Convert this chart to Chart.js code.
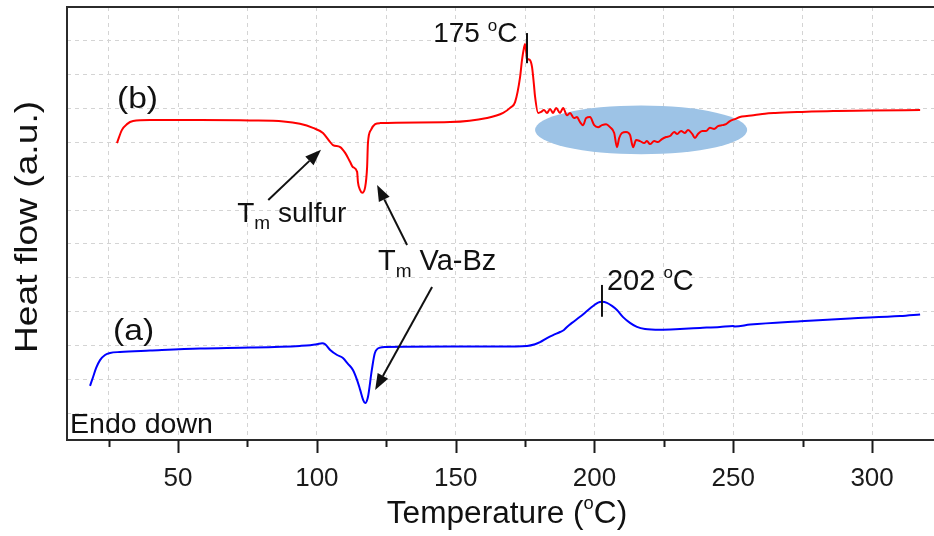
<!DOCTYPE html>
<html><head><meta charset="utf-8">
<script src="https://cdn.jsdelivr.net/npm/chart.js@4.4.0/dist/chart.umd.min.js"></script>
<style>html,body{margin:0;padding:0;background:#fff;}#wrap{width:934px;height:536px;}</style>
</head><body><div id="wrap"><canvas id="c" width="934" height="536"></canvas></div>
<script>
// ---- data (a): Va-Bz, blue ----
const tempA = [18.3, 19.4, 20.5, 21.9, 23.7, 25.5, 29.1, 39.9, 57.9, 76.0,
  93.9, 97.6, 100.1, 101.9, 103.0, 104.8, 107.3, 109.4, 111.2, 113.0,
  114.5, 115.6, 116.7, 117.4, 118.4, 119.8, 120.9, 122.8, 124.6, 148.0,
  166.0, 175.7, 178.6, 180.4, 182.9, 185.1, 187.6, 189.0, 190.1, 191.9,
  194.8, 197.3, 199.5, 201.3, 202.7, 204.5, 206.3, 208.1, 210.3, 212.8,
  215.3, 218.2, 223.6, 230.8, 238.0, 245.2, 249.9, 250.6, 256.1, 274.1,
  292.1, 310.1, 317.3];
const heatA = [0.81, 1.07, 1.34, 1.57, 1.72, 1.78, 1.81, 1.85, 1.91, 1.94,
  1.99, 2.01, 2.04, 2.07, 2.04, 1.87, 1.72, 1.63, 1.46, 1.28,
  0.98, 0.69, 0.39, 0.30, 0.48, 1.28, 1.78, 1.94, 1.96, 1.97,
  1.97, 1.99, 2.04, 2.10, 2.22, 2.31, 2.40, 2.46, 2.55, 2.67,
  2.85, 3.02, 3.17, 3.27, 3.29, 3.26, 3.17, 3.05, 2.84, 2.67,
  2.55, 2.49, 2.47, 2.49, 2.52, 2.55, 2.58, 2.56, 2.62, 2.72,
  2.80, 2.87, 2.92];
// ---- data (b): red ----
const tempB = [28.0, 29.8, 31.6, 33.8, 39.9, 57.9, 75.9, 88.0, 93.9, 98.6,
  102.2, 104.8, 105.8, 108.4, 110.2, 112.0, 113.0, 114.5, 114.8, 115.6,
  116.3, 117.4, 118.1, 118.4, 119.5, 121.0, 122.8, 148.0, 161.3, 167.1,
  169.6, 171.4, 173.2, 173.9, 174.6, 175.0, 175.7, 176.8, 177.5, 178.2,
  178.6, 179.7, 180.8, 181.8, 182.9, 184.0, 185.1, 186.2, 187.6, 188.7,
  190.1, 191.2, 192.6, 193.7, 194.8, 195.9, 197.0, 198.4, 199.9, 201.3,
  202.7, 204.2, 205.6, 207.1, 208.1, 208.9, 209.9, 211.4, 212.8, 213.9,
  215.0, 216.4, 217.9, 218.9, 220.0, 221.5, 222.9, 224.3, 225.8, 227.2,
  228.7, 229.8, 231.2, 232.6, 233.7, 235.2, 236.2, 237.3, 238.8, 240.2,
  241.6, 243.1, 244.5, 246.0, 247.4, 248.8, 250.6, 252.4, 254.9, 257.8,
  261.4, 265.1, 274.1, 286.0, 299.3, 317.3];
const heatB = [7.98, 8.37, 8.54, 8.63, 8.66, 8.66, 8.65, 8.62, 8.55, 8.43,
  8.28, 8.01, 7.92, 7.86, 7.69, 7.42, 7.27, 7.13, 6.83, 6.59,
  6.51, 6.68, 7.27, 7.98, 8.37, 8.54, 8.57, 8.60, 8.72, 8.87,
  9.02, 9.19, 9.93, 10.44, 10.79, 10.91, 10.49, 10.43, 10.23, 9.70,
  9.35, 8.87, 8.90, 8.96, 8.87, 8.99, 8.87, 9.02, 8.87, 9.02,
  8.80, 8.87, 8.72, 8.75, 8.60, 8.51, 8.72, 8.75, 8.51, 8.45,
  8.51, 8.54, 8.45, 8.28, 7.86, 8.13, 8.28, 8.31, 8.22, 7.86,
  8.07, 8.04, 7.98, 8.04, 7.95, 8.04, 8.01, 8.10, 8.16, 8.19,
  8.31, 8.25, 8.34, 8.28, 8.37, 8.25, 8.13, 8.25, 8.34, 8.34,
  8.43, 8.40, 8.48, 8.51, 8.54, 8.63, 8.69, 8.75, 8.78, 8.81,
  8.85, 8.87, 8.90, 8.93, 8.94, 8.96];
// ---- axis ticks ----
const xTickValues = [25, 50, 75, 100, 125, 150, 175, 200, 225, 250, 275, 300];
const xLabelValues = [50, 100, 150, 200, 250, 300];
const yGridValues = [0, 1, 2, 3, 4, 5, 6, 7, 8, 9, 10, 11, 12];
// ---- annotation anchors (data units) ----
const peakB = 175.7, peakA = 202.7;

const FONT = '"Liberation Sans", Arial, Helvetica, sans-serif';
const INK = '#111';

function rich(ctx, x, y, parts, align, sx) {
  sx = sx || 1;
  let w = 0;
  parts.forEach(p => { ctx.font = p[1] + 'px ' + FONT; w += ctx.measureText(p[0]).width; });
  w *= sx;
  let cx = align === 'center' ? x - w / 2 : (align === 'right' ? x - w : x);
  ctx.save();
  ctx.translate(cx, y); ctx.scale(sx, 1);
  ctx.textAlign = 'left'; ctx.textBaseline = 'alphabetic';
  let px = 0;
  parts.forEach(p => { ctx.font = p[1] + 'px ' + FONT; ctx.fillText(p[0], px, p[2]); px += ctx.measureText(p[0]).width; });
  ctx.restore();
}
function arrow(ctx, x1, y1, x2, y2) {
  const a = Math.atan2(y2 - y1, x2 - x1), L = 16, W = 6;
  const bx = x2 - L * Math.cos(a), by = y2 - L * Math.sin(a);
  ctx.beginPath(); ctx.moveTo(x1, y1); ctx.lineTo(bx, by); ctx.stroke();
  ctx.beginPath(); ctx.moveTo(x2, y2);
  ctx.lineTo(bx + W * Math.sin(a), by - W * Math.cos(a));
  ctx.lineTo(bx - W * Math.sin(a), by + W * Math.cos(a));
  ctx.closePath(); ctx.fill();
}

const annot = {
  id: 'annot',
  beforeDatasetsDraw(chart) {
    const { ctx, scales: { x, y } } = chart;
    const cx = x.getPixelForValue(216.8), cy = y.getPixelForValue(8.37);
    const rx = x.getPixelForValue(216.8 + 38.2) - cx;
    const ry = cy - y.getPixelForValue(8.37 + 0.72);
    ctx.save(); ctx.fillStyle = '#9dc3e6';
    ctx.beginPath(); ctx.ellipse(cx, cy, rx, ry, 0, 0, Math.PI * 2); ctx.fill();
    ctx.restore();
  },
  afterDatasetsDraw(chart) {
    const { ctx, chartArea: ca, scales: { x, y } } = chart;
    const X = v => x.getPixelForValue(v), Y = v => y.getPixelForValue(v);
    ctx.save();
    // frame
    ctx.strokeStyle = '#2b2b2b'; ctx.lineWidth = 2;
    ctx.beginPath();
    ctx.moveTo(ca.right + 2, ca.top); ctx.lineTo(ca.left, ca.top);
    ctx.lineTo(ca.left, ca.bottom); ctx.lineTo(ca.right + 2, ca.bottom);
    ctx.stroke();
    // x tick marks (major / minor)
    ctx.strokeStyle = '#1a1a1a'; ctx.lineWidth = 2;
    xTickValues.forEach(v => {
      const px = Math.round(X(v)) + 0.5, len = xLabelValues.includes(v) ? 13 : 7;
      ctx.beginPath(); ctx.moveTo(px, ca.bottom); ctx.lineTo(px, ca.bottom + len); ctx.stroke();
    });
    // peak marks
    ctx.strokeStyle = INK; ctx.lineWidth = 2;
    ctx.beginPath(); ctx.moveTo(X(peakB), Y(11.23)); ctx.lineTo(X(peakB), Y(10.34)); ctx.stroke();
    ctx.beginPath(); ctx.moveTo(X(peakA), Y(3.79)); ctx.lineTo(X(peakA), Y(2.85)); ctx.stroke();
    // arrows
    ctx.fillStyle = INK; ctx.strokeStyle = INK; ctx.lineWidth = 2;
    arrow(ctx, X(82.5), Y(6.30), X(101.5), Y(7.78));
    arrow(ctx, X(132.5), Y(4.97), X(121.7), Y(6.74));
    arrow(ctx, X(141.5), Y(3.73), X(121.0), Y(0.69));
    // labels
    ctx.fillStyle = INK;
    rich(ctx, X(28.0), Y(9.02), [['(b)', 30, 0]], 'left', 1.12);
    rich(ctx, X(26.6), Y(2.16), [['(a)', 30, 0]], 'left', 1.12);
    rich(ctx, X(11.1), Y(-0.58), [['Endo down', 28, 0]], 'left', 1.02);
    rich(ctx, X(141.9), Y(10.97), [['175 ', 28, 0], ['o', 17, -11], ['C', 28, 0]], 'left');
    rich(ctx, X(204.5), Y(3.64), [['202 ', 29, 0], ['o', 17, -12], ['C', 29, 0]], 'left');
    rich(ctx, X(71.3), Y(5.65), [['T', 28, 0], ['m', 19, 7], [' sulfur', 28, 0]], 'left');
    rich(ctx, X(122.0), Y(4.23), [['T', 29, 0], ['m', 19, 7], [' Va-Bz', 29, 0]], 'left');
    // axis titles
    rich(ctx, 507, 523, [['Temperature (', 31, 0], ['o', 18, -14], ['C)', 31, 0]], 'center', 1.02);
    ctx.translate(37, 227); ctx.rotate(-Math.PI / 2);
    rich(ctx, 0, 0, [['Heat flow (a.u.)', 31, 0]], 'center', 1.2);
    ctx.restore();
  }
};

new Chart(document.getElementById('c').getContext('2d'), {
  type: 'line',
  data: {
    datasets: [
      { label: '(a)', data: tempA.map((t, i) => ({ x: t, y: heatA[i] })), borderColor: '#0000ff', borderWidth: 2, pointRadius: 0, cubicInterpolationMode: 'monotone', fill: false },
      { label: '(b)', data: tempB.map((t, i) => ({ x: t, y: heatB[i] })), borderColor: '#ff0000', borderWidth: 2, pointRadius: 0, cubicInterpolationMode: 'monotone', fill: false }
    ]
  },
  options: {
    responsive: false, animation: false,
    layout: { padding: { top: 7, left: 0, right: 0, bottom: 0 } },
    plugins: { legend: { display: false }, tooltip: { enabled: false } },
    scales: {
      x: {
        type: 'linear', min: 10, max: 322.3,
        afterBuildTicks: s => { s.ticks = xTickValues.map(v => ({ value: v })); },
        afterFit: s => { s.height = 96; },
        grid: { color: '#d4d4d4', lineWidth: 1, drawTicks: false },
        border: { display: false, dash: [4, 4] },
        ticks: { autoSkip: false, maxRotation: 0, padding: 23, color: '#1a1a1a',
          font: { size: 26, family: FONT },
          callback: v => xLabelValues.includes(v) ? String(v) : '' }
      },
      y: {
        type: 'linear', min: -0.79, max: 12,
        afterBuildTicks: s => { s.ticks = yGridValues.map(v => ({ value: v })); },
        afterFit: s => { s.width = 67; },
        grid: { color: '#d4d4d4', lineWidth: 1, drawTicks: false },
        border: { display: false, dash: [4, 4] },
        ticks: { display: false }
      }
    }
  },
  plugins: [annot]
});
</script></body></html>
